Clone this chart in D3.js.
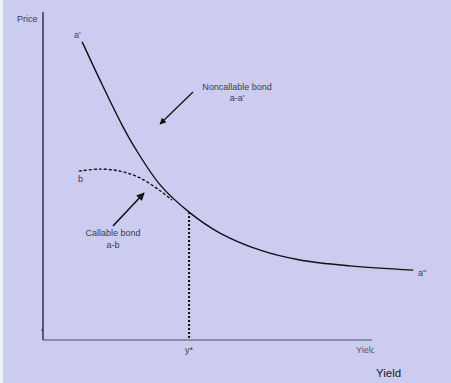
<!DOCTYPE html>
<html>
<head>
<meta charset="utf-8">
<script src="https://cdn.jsdelivr.net/npm/d3@7"></script>
<style>
    body { margin: 0; background: #e9f6ef; }
    svg { display: block; font-family: "Liberation Sans", Arial, sans-serif; }
</style>
</head>
<body>
<svg id="chart" width="451" height="383"></svg>
<script>
// price/yield curves, in axis units (yield 0..10, price 0..10)
const noncallableYield = [1.19, 1.73, 2.40, 2.80, 3.56, 4.44, 5.38, 6.60, 7.81, 9.33, 11.25];
const noncallablePrice = [9.09, 7.93, 6.56, 5.85, 4.73, 3.90, 3.26, 2.74, 2.44, 2.26, 2.13];

const callableYield = [1.09, 1.73, 2.34, 2.95, 3.56, 3.92];
const callablePrice = [5.15, 5.21, 5.15, 4.94, 4.55, 4.27];

const yStarYield = 4.44;
const xTickLabels = ["y*"];

const svg = d3.select("#chart");
const W = 451, H = 383;

const x = d3.scaleLinear().domain([0, 10]).range([43, 372]);
const y = d3.scaleLinear().domain([0, 10]).range([340, 12]);

svg.append("rect")
    .attr("x", 3).attr("y", 0)
    .attr("width", W - 3).attr("height", H)
    .attr("fill", "#cccbf0");

const defs = svg.append("defs");
defs.append("marker")
    .attr("id", "arrow")
    .attr("viewBox", "0 0 10 10")
    .attr("refX", 9).attr("refY", 5)
    .attr("markerWidth", 5).attr("markerHeight", 5)
    .attr("orient", "auto")
    .append("path")
    .attr("d", "M0,0 L10,5 L0,10 z")
    .attr("fill", "#111");

// axes
svg.append("line")
    .attr("x1", x(0)).attr("x2", x(10))
    .attr("y1", y(0)).attr("y2", y(0))
    .attr("stroke", "#8c8ca4").attr("stroke-width", 2);
svg.append("line")
    .attr("x1", x(0)).attr("x2", x(0))
    .attr("y1", y(0)).attr("y2", y(10))
    .attr("stroke", "#33334a").attr("stroke-width", 1.5);
svg.append("line")
    .attr("x1", x(0) - 2).attr("x2", x(0))
    .attr("y1", y(0) - 10).attr("y2", y(0) - 10)
    .attr("stroke", "#33334a").attr("stroke-width", 1);

const line = d3.line()
    .x(d => x(d[0]))
    .y(d => y(d[1]))
    .curve(d3.curveCatmullRom);

svg.append("path")
    .datum(d3.zip(noncallableYield, noncallablePrice))
    .attr("d", line)
    .attr("fill", "none")
    .attr("stroke", "#111")
    .attr("stroke-width", 1.4);

svg.append("path")
    .datum(d3.zip(callableYield, callablePrice))
    .attr("d", line)
    .attr("fill", "none")
    .attr("stroke", "#111")
    .attr("stroke-width", 1.4)
    .attr("stroke-dasharray", "3,2");

// y* drop line
const yStarPrice = d3.scaleLinear().domain(noncallableYield).range(noncallablePrice)(yStarYield);
svg.append("line")
    .attr("x1", x(yStarYield)).attr("x2", x(yStarYield))
    .attr("y1", y(yStarPrice)).attr("y2", y(0))
    .attr("stroke", "#111")
    .attr("stroke-width", 2)
    .attr("stroke-dasharray", "2,2");

// arrows
svg.append("line")
    .attr("x1", 193).attr("y1", 92).attr("x2", 160).attr("y2", 124)
    .attr("stroke", "#111").attr("stroke-width", 1.3)
    .attr("marker-end", "url(#arrow)");
svg.append("line")
    .attr("x1", 113).attr("y1", 226).attr("x2", 144).attr("y2", 193)
    .attr("stroke", "#111").attr("stroke-width", 1.6)
    .attr("marker-end", "url(#arrow)");

// labels
const labels = [
    {t: "Price", x: 17, y: 22, a: "start", s: 9},
    {t: "a'", x: 74, y: 38, a: "start", s: 9},
    {t: "b", x: 78, y: 182, a: "start", s: 9},
    {t: "a\"", x: 418, y: 276, a: "start", s: 9},
    {t: "Noncallable bond", x: 237, y: 90, a: "middle", s: 9},
    {t: "a-a'", x: 237, y: 101, a: "middle", s: 9},
    {t: "Callable bond", x: 113, y: 236, a: "middle", s: 9},
    {t: "a-b", x: 113, y: 248, a: "middle", s: 9}
];
svg.selectAll("text.lbl")
    .data(labels)
    .join("text")
    .attr("class", "lbl")
    .attr("x", d => d.x).attr("y", d => d.y)
    .attr("text-anchor", d => d.a)
    .attr("font-size", d => d.s)
    .attr("fill", "#3c3c50")
    .text(d => d.t);

svg.selectAll("text.tick")
    .data(xTickLabels)
    .join("text")
    .attr("class", "tick")
    .attr("x", x(yStarYield)).attr("y", 353)
    .attr("text-anchor", "middle")
    .attr("font-size", 9)
    .attr("fill", "#3c3c50")
    .text(d => d);

// axis title, cut off at the end of the axis as in the original
svg.append("clipPath").attr("id", "clipYield")
    .append("rect").attr("x", 340).attr("y", 340).attr("width", 34).attr("height", 20);
svg.append("text")
    .attr("x", 356).attr("y", 353)
    .attr("font-size", 9)
    .attr("fill", "#5a5a70")
    .attr("clip-path", "url(#clipYield)")
    .text("Yield");

svg.append("text")
    .attr("x", 376).attr("y", 377)
    .attr("font-size", 11.5)
    .attr("fill", "#1a1a1a")
    .text("Yield");
</script>
</body>
</html>
